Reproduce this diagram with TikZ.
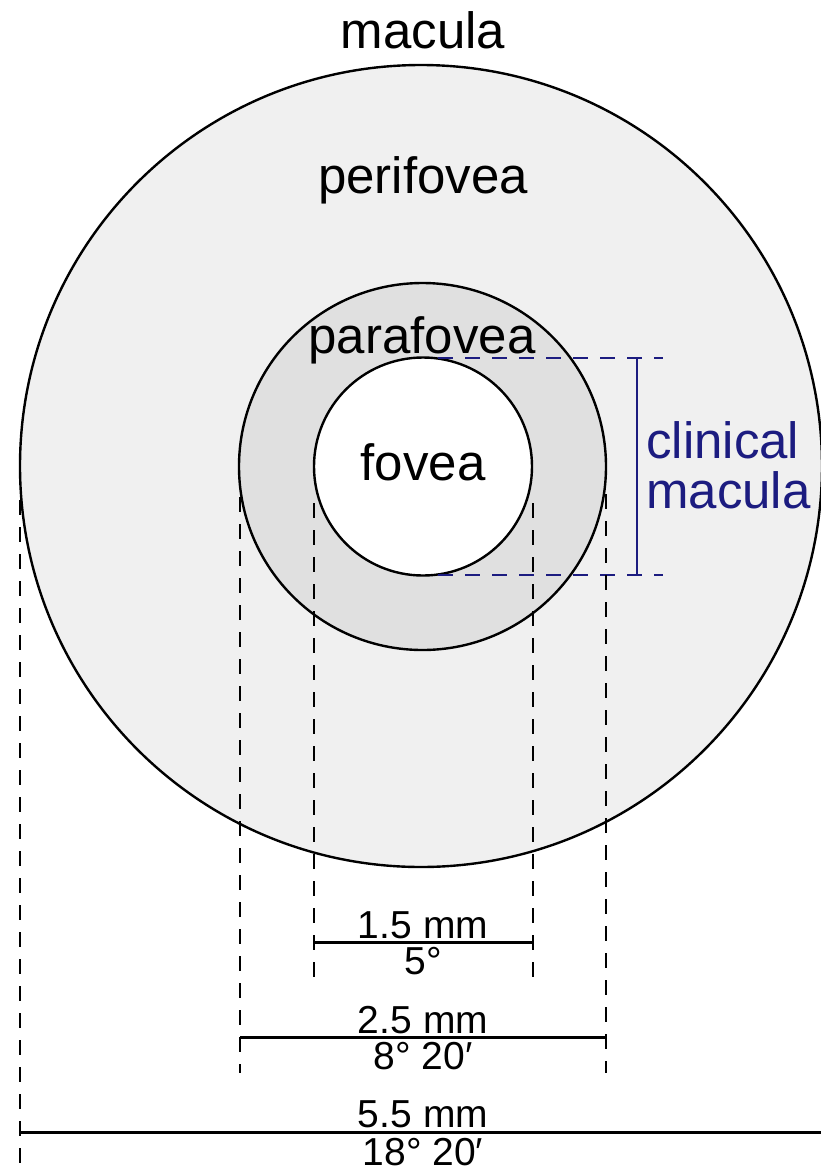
\documentclass[tikz,border=0pt]{standalone}
\usepackage{fontspec}
\setmainfont{Liberation Sans}
\definecolor{navy}{RGB}{28,28,128}
\definecolor{outerfill}{RGB}{240,240,240}
\definecolor{midfill}{RGB}{224,224,224}
\begin{document}
\begin{tikzpicture}[x=1pt,y=-1pt,
  ring/.style={circle,draw=black,line width=2.4pt,inner sep=0pt,outer sep=0pt},
  big/.style={font=\fontsize{51}{51}\selectfont,anchor=base,inner sep=0pt},
  dimlabel/.style={font=\fontsize{39}{39}\selectfont,anchor=base,inner sep=0pt},
  guide/.style={draw=black,line width=2.4pt,dash pattern=on 15pt off 12pt},
  dimline/.style={draw=black,line width=3pt},
  cguide/.style={draw=navy,line width=2.4pt,dash pattern=on 15pt off 12pt},
  cbar/.style={draw=navy,line width=2.4pt}]
\useasboundingbox (0,0) rectangle (820,1171);
\fill[white] (0,0) rectangle (820,1171);
% circles
\node[ring,fill=outerfill,minimum size=802pt] (peri) at (421,466) {};
\node[ring,fill=midfill,minimum size=367pt] (para) at (422.5,466.5) {};
\node[ring,fill=white,minimum size=218pt] (fov) at (423,466.5) {};
% labels
\node[big] (lmac) at (423,48) {macula};
\node[big] (lperi) at (423,193) {perifovea};
\node[big] (lpara) at (422,353) {parafovea};
\node[big] (lfov) at (423,480) {fovea};
% clinical macula
\coordinate (ct1) at (438,358);
\coordinate (ct2) at (663,358);
\coordinate (cb1) at (438,575);
\coordinate (cb2) at (663,575);
\coordinate (cvt) at (637,358);
\coordinate (cvb) at (637,575);
\draw[cguide] (ct1) -- (ct2);
\draw[cguide] (cb1) -- (cb2);
\draw[cbar] (cvt) -- (cvb);
\node[big,text=navy,anchor=base west] (cm1) at (646,458) {clinical};
\node[big,text=navy,anchor=base west] (cm2) at (646,508) {macula};
% guide lines
\coordinate (g1t) at (20,500);   \coordinate (g1b) at (20,1163);
\coordinate (g2t) at (240,497);  \coordinate (g2b) at (240,1073);
\coordinate (g3t) at (314,503);  \coordinate (g3b) at (314,978);
\coordinate (g4t) at (533,503);  \coordinate (g4b) at (533,978);
\coordinate (g5t) at (606,494);  \coordinate (g5b) at (606,1073);
\draw[guide] (g1t) -- (g1b);
\draw[guide] (g2t) -- (g2b);
\draw[guide] (g3t) -- (g3b);
\draw[guide] (g4t) -- (g4b);
\draw[guide] (g5t) -- (g5b);
% dimension lines
\coordinate (d1a) at (314,942);  \coordinate (d1b) at (533,942);
\coordinate (d2a) at (240,1037); \coordinate (d2b) at (606,1037);
\coordinate (d3a) at (20,1132);  \coordinate (d3b) at (822,1132);
\draw[dimline] (d1a) -- (d1b);
\draw[dimline] (d2a) -- (d2b);
\draw[dimline] (d3a) -- (d3b);
\node[dimlabel] (t1a) at (423,938) {1.5 mm};
\node[dimlabel] (t1b) at (423,974) {5°};
\node[dimlabel] (t2a) at (423,1033) {2.5 mm};
\node[dimlabel] (t2b) at (423,1069) {8° 20′};
\node[dimlabel] (t3a) at (423,1127) {5.5 mm};
\node[dimlabel] (t3b) at (423,1165) {18° 20′};
\end{tikzpicture}
\end{document}
